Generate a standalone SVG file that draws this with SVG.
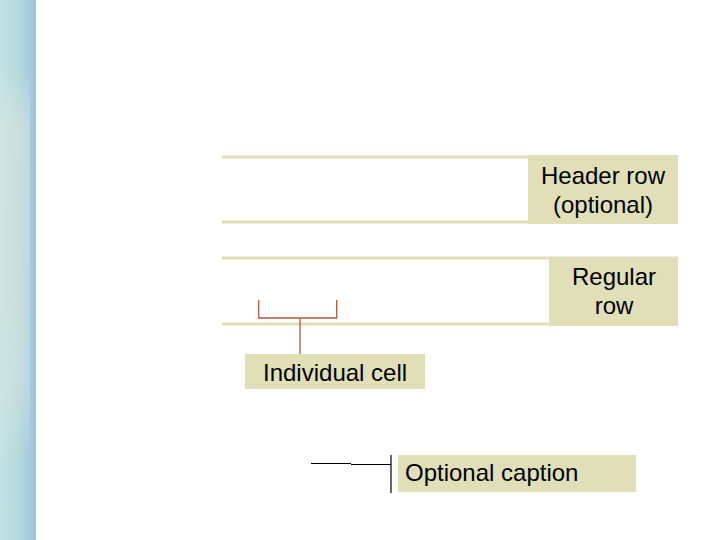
<svg xmlns="http://www.w3.org/2000/svg" width="720" height="540" viewBox="0 0 720 540">
<defs>
<linearGradient id="strip" x1="0" y1="0" x2="1" y2="0">
<stop offset="0" stop-color="#c4e2e4"/>
<stop offset="0.5" stop-color="#b4dadb"/>
<stop offset="1" stop-color="#9ec2de"/>
</linearGradient>
<linearGradient id="fade" x1="0" y1="0" x2="0" y2="1">
<stop offset="0" stop-color="#e8ece6" stop-opacity="0"/>
<stop offset="0.15" stop-color="#dfe6de" stop-opacity="0.5"/>
<stop offset="0.8" stop-color="#dfe6de" stop-opacity="0.4"/>
<stop offset="1" stop-color="#e8ece6" stop-opacity="0"/>
</linearGradient>
</defs>
<style>
.band{stroke:#e0dfb8;stroke-width:3;fill:none}
.box{fill:#e0dfb8}
.lbl{font-family:"Liberation Sans",Arial,sans-serif;font-size:24px;fill:#000}
.br{stroke:#b05a3c;stroke-width:1.3;fill:none}
.bk{stroke:#000;stroke-width:1.2;fill:none}
</style>
<rect width="720" height="540" fill="#fff"/>
<rect x="0" y="0" width="36" height="540" fill="url(#strip)"/>
<rect x="0" y="70" width="30" height="390" fill="url(#fade)"/>
<g id="header-row">
<line class="band" x1="222" y1="157" x2="678" y2="157"/>
<line class="band" x1="222" y1="222" x2="678" y2="222"/>
<rect class="box" x="528" y="155" width="150" height="69"/>
<text class="lbl" x="603" y="184" text-anchor="middle">Header row</text>
<text class="lbl" x="603" y="213" text-anchor="middle">(optional)</text>
</g>
<g id="regular-row">
<line class="band" x1="222" y1="258" x2="678" y2="258"/>
<line class="band" x1="222" y1="324" x2="678" y2="324"/>
<rect class="box" x="549" y="257" width="129" height="69"/>
<text class="lbl" x="614" y="285" text-anchor="middle">Regular</text>
<text class="lbl" x="614" y="314" text-anchor="middle">row</text>
</g>
<g id="individual-cell">
<rect class="box" x="245" y="354" width="180" height="35"/>
<text class="lbl" x="263" y="381">Individual cell</text>
</g>
<g id="optional-caption">
<rect class="box" x="398" y="455" width="238" height="37"/>
<text class="lbl" x="405" y="481">Optional caption</text>
</g>
<g id="connectors">
<path class="br" d="M258.7,300 V318 H336.7 V300"/>
<path class="br" d="M300,318 V354"/>
<path class="bk" d="M311,463.5 H351 M351,464.5 H391 M391,455 V493"/>
</g>
</svg>
